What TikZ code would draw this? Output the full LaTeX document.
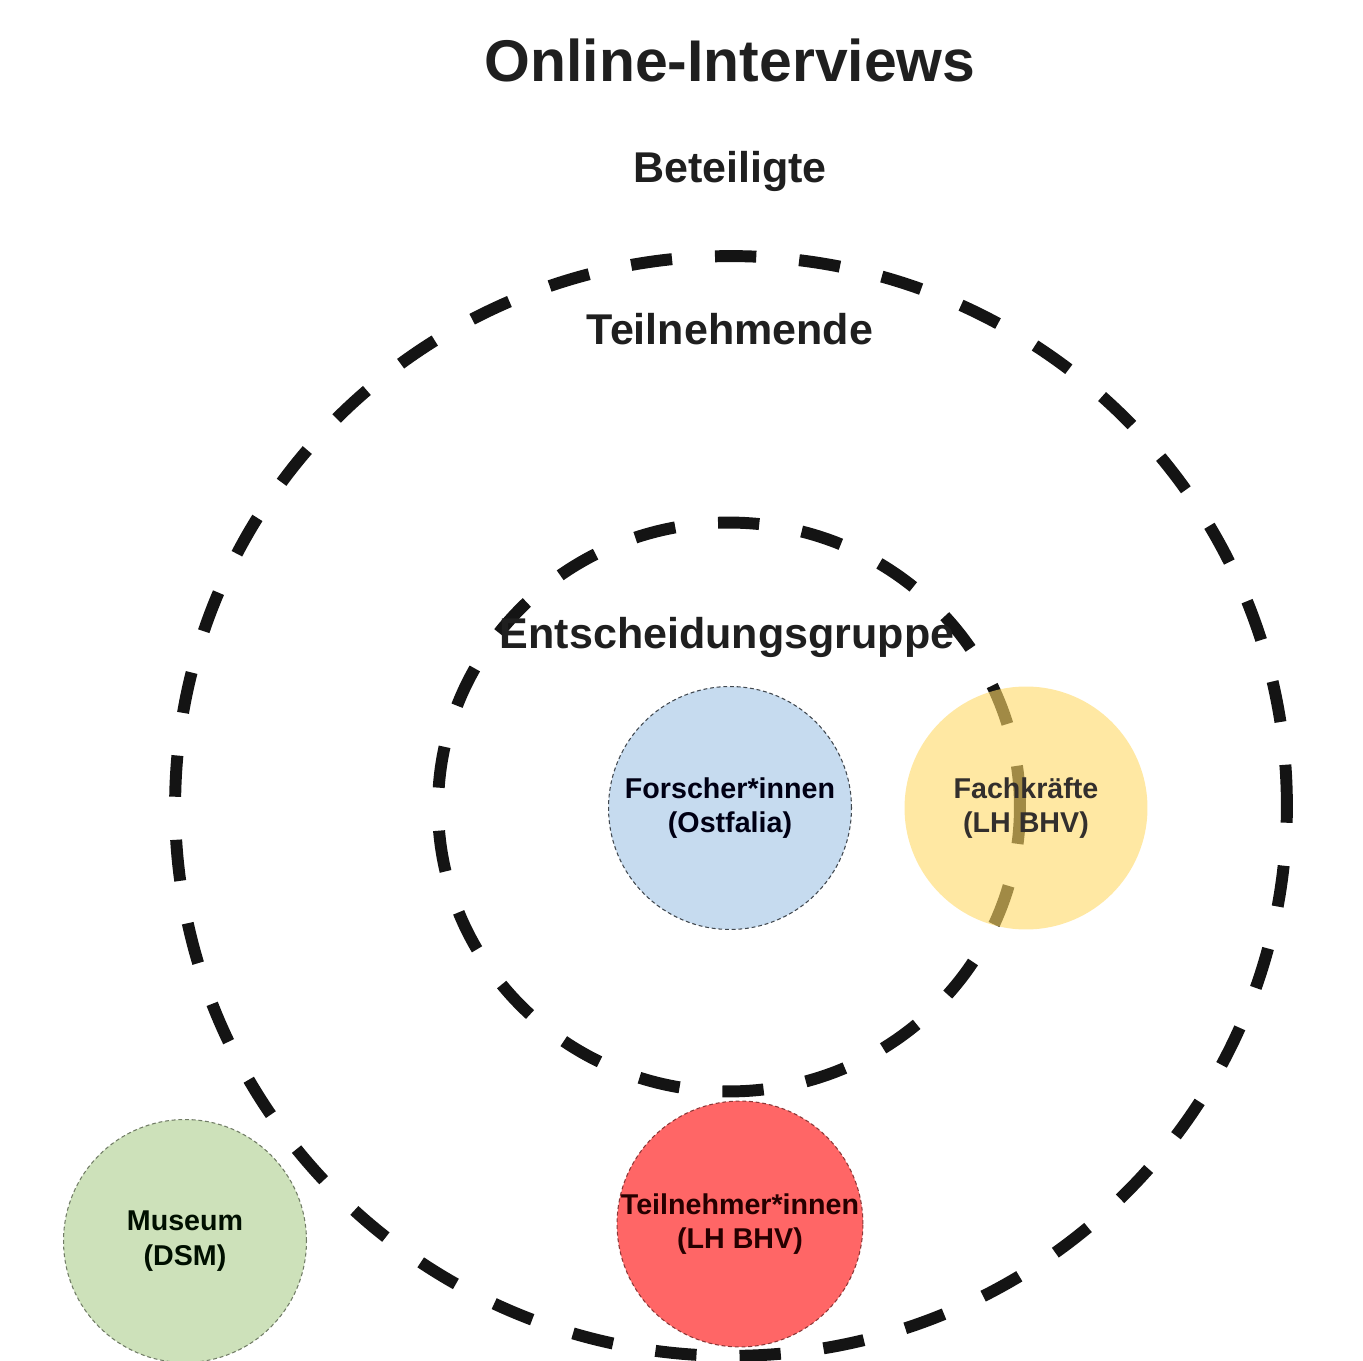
\documentclass[tikz,border=0pt]{standalone}
\usepackage{fontspec}
\setmainfont{Liberation Sans}
\usepackage{tikz}
\usetikzlibrary{
	positioning,
	shapes.geometric,
	backgrounds
}

\definecolor{hellblau}{HTML}{C6DBEF}
\definecolor{hellgruen}{HTML}{CDE1BA}
\definecolor{hellrot}{HTML}{FF6666}
\definecolor{gelb}{HTML}{FFD966}

\begin{document}
\begin{tikzpicture}[
			x=0.02cm, y=-0.02cm,
			titel/.style={anchor=base, text=black!88, font=\fontsize{33.5}{40}\selectfont\bfseries},
			gruppe/.style={anchor=base, text=black!88, font=\fontsize{24.5}{29}\selectfont\bfseries},
			ring/.style={ellipse, draw=black!92, line width=6.8pt, dash pattern=on 23.5pt off 24.5pt, inner sep=0pt},
			kreis/.style={circle, minimum size=4.86cm, inner sep=0pt, align=center, line width=0.6pt, dash pattern=on 2.2pt off 1.6pt, font=\fontsize{16.3}{19.5}\selectfont\bfseries}
		]

		\useasboundingbox (0,0) rectangle (1363,1361);

		\node[ring, minimum width=22.24cm, minimum height=22cm] (teilnehmende) at (731,806) {};
		\node[ring, minimum width=11.64cm, minimum height=11.38cm] (entscheidung) at (729,807) {};

		\node[kreis, fill=hellblau, draw=black!45!hellblau!60!black, text=black!80!blue!40!black] (forscher) at (730,808) {Forscher*innen\\(Ostfalia)};
		\node[kreis, fill=hellrot, draw=hellrot!55!black, text=black!85!red] (teilnehmer) at (740,1224) {Teilnehmer*innen\\(LH BHV)};
		\node[kreis, fill=hellgruen, draw=hellgruen!55!black, text=black!85!green!40!black] (museum) at (185,1241) {Museum\\(DSM)};
		\node[kreis, draw=none, fill=gelb, fill opacity=0.6, text opacity=1, text=black!85!yellow!50!black] (fachkraefte) at (1026,808) {Fachkräfte\\(LH BHV)};

		\node[titel] (title) at (730,82) {Online-Interviews};
		\node[gruppe] (beteiligte) at (730,183) {Beteiligte};
		\node[gruppe] (teiln) at (730,345) {Teilnehmende};
		\node[gruppe] (entsch) at (727,649) {Entscheidungsgruppe};
	\end{tikzpicture}
\end{document}
